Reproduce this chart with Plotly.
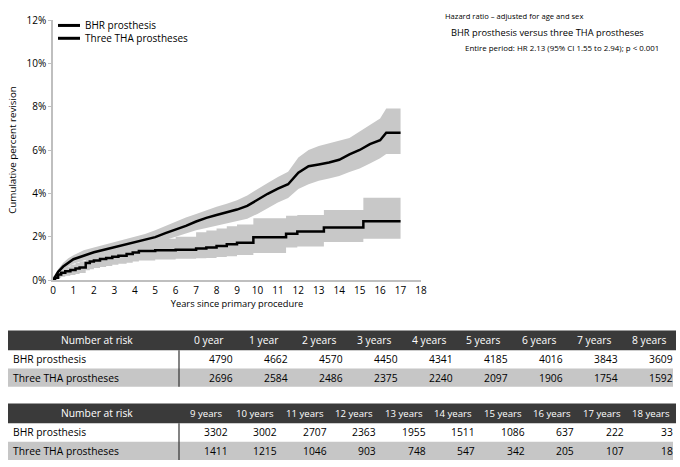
import plotly.graph_objects as go

# ---------------- data ----------------
bhr_t = [0, 0.25, 0.5, 0.75, 1.0, 1.5, 2.0, 2.5, 3.0, 3.5, 4.0, 4.5, 5.0, 5.5, 6.0, 6.5, 7.0, 7.5,
         8.0, 8.5, 9.0, 9.5, 10.0, 10.5, 11.0, 11.5, 12.0, 12.5, 13.0, 13.5, 14.0, 14.5, 15.0,
         15.5, 16.0, 16.3, 17.0]
bhr_est = [0, 0.38, 0.62, 0.8, 0.96, 1.12, 1.28, 1.4, 1.52, 1.63, 1.74, 1.85, 1.98, 2.16, 2.32,
           2.5, 2.7, 2.87, 3.0, 3.12, 3.25, 3.42, 3.72, 3.98, 4.22, 4.42, 4.95, 5.25, 5.33, 5.42,
           5.55, 5.8, 6.0, 6.27, 6.45, 6.8, 6.8]
bhr_lo = [0, 0.25, 0.45, 0.62, 0.75, 0.9, 1.03, 1.14, 1.25, 1.35, 1.45, 1.56, 1.68, 1.85, 2.0,
          2.15, 2.3, 2.4, 2.5, 2.6, 2.7, 2.83, 3.05, 3.3, 3.58, 3.78, 4.2, 4.42, 4.58, 4.68, 4.8,
          4.98, 5.15, 5.38, 5.62, 5.81, 5.81]
bhr_hi = [0, 0.5, 0.8, 1.0, 1.14, 1.37, 1.5, 1.62, 1.75, 1.87, 1.98, 2.12, 2.3, 2.5, 2.68, 2.88,
          3.05, 3.22, 3.38, 3.52, 3.68, 3.9, 4.2, 4.48, 4.75, 5.0, 5.65, 6.0, 6.18, 6.3, 6.45,
          6.55, 6.85, 7.15, 7.45, 7.92, 7.92]

tha_t = [0, 0.1, 0.25, 0.4, 0.6, 0.85, 1.1, 1.3, 1.6, 1.8, 2.0, 2.3, 2.6, 2.9, 3.2, 3.6, 3.9,
         4.2, 5.0, 6.0, 7.0, 7.5, 8.0, 8.5, 9.0, 9.8, 11.4, 11.95, 13.25, 15.18, 17.0]
tha_est = [0, 0.1, 0.25, 0.33, 0.4, 0.46, 0.53, 0.58, 0.78, 0.85, 0.9, 0.97, 1.02, 1.07, 1.12,
           1.2, 1.27, 1.34, 1.37, 1.4, 1.45, 1.5, 1.57, 1.65, 1.72, 1.97, 2.13, 2.24, 2.42, 2.71,
           2.71]
tha_lo = [0, 0.03, 0.1, 0.15, 0.2, 0.23, 0.28, 0.32, 0.45, 0.5, 0.55, 0.6, 0.65, 0.7, 0.75, 0.8,
          0.85, 0.9, 0.95, 0.98, 1.0, 1.02, 1.06, 1.1, 1.15, 1.25, 1.5, 1.55, 1.75, 1.9, 1.9]
tha_hi = [0, 0.2, 0.42, 0.52, 0.62, 0.72, 0.8, 0.86, 1.1, 1.2, 1.25, 1.35, 1.42, 1.48, 1.55,
          1.63, 1.72, 1.8, 1.9, 2.0, 2.2, 2.28, 2.38, 2.48, 2.56, 2.85, 2.97, 3.0, 3.23, 3.8, 3.8]

series_names = ["BHR prosthesis", "Three THA prostheses"]

x_ticks = list(range(0, 19))
y_ticks = [0, 2, 4, 6, 8, 10, 12]
y_tick_text = ["0%", "2%", "4%", "6%", "8%", "10%", "12%"]

risk_years_1 = ["0 year", "1 year", "2 years", "3 years", "4 years", "5 years", "6 years",
                "7 years", "8 years"]
risk_bhr_1 = [4790, 4662, 4570, 4450, 4341, 4185, 4016, 3843, 3609]
risk_tha_1 = [2696, 2584, 2486, 2375, 2240, 2097, 1906, 1754, 1592]
risk_years_2 = ["9 years", "10 years", "11 years", "12 years", "13 years", "14 years",
                "15 years", "16 years", "17 years", "18 years"]
risk_bhr_2 = [3302, 3002, 2707, 2363, 1955, 1511, 1086, 637, 222, 33]
risk_tha_2 = [1411, 1215, 1046, 903, 748, 547, 342, 205, 107, 18]

hr_title = "Hazard ratio – adjusted for age and sex"
hr_comp = "BHR prosthesis versus three THA prostheses"
hr_text = "Entire period: HR 2.13 (95% CI 1.55 to 2.94); p < 0.001"

# ---------------- layout constants ----------------
W, H = 680, 467
L, R, T, B = 53, 421, 17, 280
FONT = "Open Sans"
BAND = "#c8c8c8"
DARK = "#3a3a3a"
ROWGREY = "#c6c6c6"


def px(x):
    return (x - L) / (R - L)


def py(y):
    return (B - y) / (B - T)


fig = go.Figure()

# bands
fig.add_trace(go.Scatter(x=bhr_t, y=bhr_lo, mode="lines", line=dict(width=0, color=BAND),
                         showlegend=False, hoverinfo="skip"))
fig.add_trace(go.Scatter(x=bhr_t, y=bhr_hi, mode="lines", line=dict(width=0, color=BAND),
                         fill="tonexty", fillcolor=BAND, showlegend=False, hoverinfo="skip"))
fig.add_trace(go.Scatter(x=tha_t, y=tha_lo, mode="lines", line=dict(width=0, color=BAND, shape="hv"),
                         showlegend=False, hoverinfo="skip"))
fig.add_trace(go.Scatter(x=tha_t, y=tha_hi, mode="lines", line=dict(width=0, color=BAND, shape="hv"),
                         fill="tonexty", fillcolor=BAND, showlegend=False, hoverinfo="skip"))
# estimate lines
fig.add_trace(go.Scatter(x=tha_t, y=tha_est, mode="lines", name=series_names[1],
                         line=dict(color="black", width=2.5, shape="hv"), showlegend=False))
fig.add_trace(go.Scatter(x=bhr_t, y=bhr_est, mode="lines", name=series_names[0],
                         line=dict(color="black", width=2.5), showlegend=False))

shapes = []
ann = []

# manual legend
for i, nm in enumerate(series_names):
    yy = 22.5 + i * 13
    shapes.append(dict(type="line", xref="paper", yref="paper", x0=px(58), x1=px(80),
                       y0=py(yy), y1=py(yy), line=dict(color="black", width=3)))
    ann.append(dict(text=nm, xref="paper", yref="paper", x=px(83), y=py(yy), xanchor="left",
                    yanchor="middle", showarrow=False, font=dict(size=10, color="black", family=FONT)))

# hazard ratio texts
ann.append(dict(text=hr_title, xref="paper", yref="paper", x=px(443), y=py(13), xanchor="left",
                yanchor="middle", showarrow=False, font=dict(size=7.6, color="black", family=FONT)))
ann.append(dict(text=hr_comp, xref="paper", yref="paper", x=px(449), y=py(30), xanchor="left",
                yanchor="middle", showarrow=False, font=dict(size=9.3, color="black", family=FONT)))
ann.append(dict(text=hr_text, xref="paper", yref="paper", x=px(463), y=py(45), xanchor="left",
                yanchor="middle", showarrow=False, font=dict(size=7.9, color="black", family=FONT)))


# tables
def add_table(top, years, v1, v2, hsize):
    x0, xsep, x1 = 8, 181, 676
    hh, rh = 20, 18.5
    ncol = len(years)
    cw = (x1 - xsep) / ncol
    shapes.append(dict(type="rect", xref="paper", yref="paper", x0=px(x0), x1=px(x1),
                       y0=py(top), y1=py(top + hh), fillcolor=DARK, line=dict(width=0), layer="below"))
    shapes.append(dict(type="rect", xref="paper", yref="paper", x0=px(x0), x1=px(x1 - 3),
                       y0=py(top + hh + rh), y1=py(top + hh + 2 * rh), fillcolor=ROWGREY,
                       line=dict(width=0), layer="below"))
    shapes.append(dict(type="line", xref="paper", yref="paper", x0=px(xsep - 2), x1=px(xsep - 2),
                       y0=py(top + hh), y1=py(top + hh + 2 * rh), line=dict(color="#333333", width=1.2)))
    f_h0 = dict(size=10.3, color="white", family=FONT)
    f_h = dict(size=hsize, color="white", family=FONT)
    f_c = dict(size=10.3, color="black", family=FONT)
    ann.append(dict(text="Number at risk", xref="paper", yref="paper", x=px((x0 + xsep) / 2 + 2),
                    y=py(top + hh / 2), xanchor="center", yanchor="middle", showarrow=False, font=f_h0))
    for r, nm in enumerate(series_names):
        ann.append(dict(text=nm, xref="paper", yref="paper", x=px(11), y=py(top + hh + rh * (r + 0.5)),
                        xanchor="left", yanchor="middle", showarrow=False, font=f_c))
    for i in range(ncol):
        cl = xsep + cw * i
        cr = cl + cw
        ann.append(dict(text=years[i], xref="paper", yref="paper", x=px((cl + cr) / 2), y=py(top + hh / 2),
                        xanchor="center", yanchor="middle", showarrow=False, font=f_h))
        for r, vals in enumerate([v1, v2]):
            ann.append(dict(text=str(vals[i]), xref="paper", yref="paper", x=px(cr - 1),
                            y=py(top + hh + rh * (r + 0.5)), xanchor="right", yanchor="middle",
                            showarrow=False, font=f_c))


add_table(331, risk_years_1, risk_bhr_1, risk_tha_1, 10.3)
add_table(405, risk_years_2, risk_bhr_2, risk_tha_2, 9.6)

fig.update_layout(
    width=W, height=H,
    margin=dict(l=L, r=W - R, t=T, b=H - B, pad=0),
    paper_bgcolor="white", plot_bgcolor="white",
    font=dict(family=FONT, size=10, color="black"),
    shapes=shapes, annotations=ann,
    showlegend=False,
)
fig.update_xaxes(range=[0, 18], tickmode="array", tickvals=x_ticks, ticktext=[str(v) for v in x_ticks],
                 showline=True, linecolor="#bfbfbf", linewidth=1.5, showgrid=False, zeroline=False,
                 ticks="", tickfont=dict(size=10, family=FONT),
                 title=dict(text="Years since primary procedure", font=dict(size=9.3, family=FONT), standoff=4))
fig.update_yaxes(range=[0, 12], tickmode="array", tickvals=y_ticks, ticktext=y_tick_text,
                 showline=True, linecolor="#bfbfbf", linewidth=1.5, showgrid=False, zeroline=False,
                 ticks="outside", ticklen=3, tickcolor="#bfbfbf", tickfont=dict(size=10, family=FONT),
                 title=dict(text="Cumulative percent revision", font=dict(size=9.8, family=FONT), standoff=8))

fig.write_html("out.html", config={"displayModeBar": False},
               post_script="document.body.style.margin='0px';document.body.style.padding='0px';")
